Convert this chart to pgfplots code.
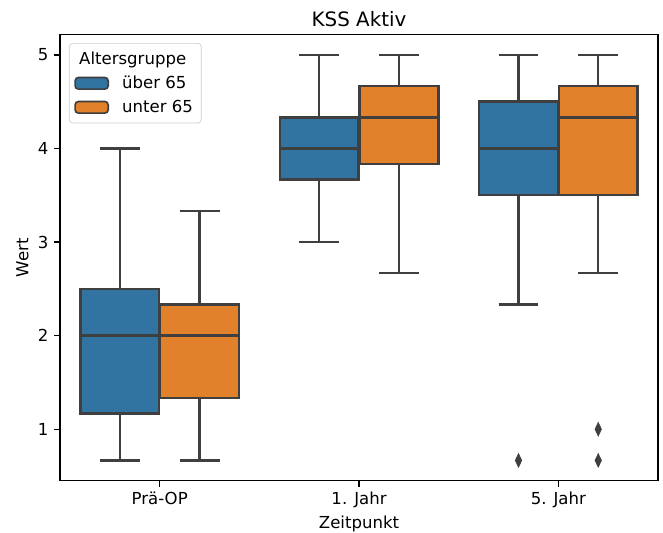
\documentclass[border=0pt]{standalone}
\usepackage{fontspec}
\setmainfont{DejaVu Sans}
\usepackage{pgfplots}
\pgfplotsset{compat=1.18}
\usepgfplotslibrary{statistics}
\definecolor{sbblue}{HTML}{3274A1}
\definecolor{sborange}{HTML}{E1812C}
\definecolor{sbgray}{HTML}{3F3F3F}
\begin{document}
\begin{tikzpicture}
\begin{axis}[
  scale only axis, width=361.5pt, height=269.7pt,
  at={(0,0)}, anchor=south west,
  xmin=-0.5, xmax=2.5, ymin=0.45, ymax=5.2167,
  xtick={0,1,2}, xticklabels={Prä-OP,1. Jahr,5. Jahr},
  ytick={1,2,3,4,5},
  tick align=outside, xtick pos=bottom, ytick pos=left,
  major tick length=3.5pt,
  tick style={black, line width=0.8pt},
  axis line style={black, line width=0.8pt},
  ticklabel style={font=\fontsize{10}{12}\selectfont},
  /pgf/number format/assume math mode=true,
  xlabel={Zeitpunkt}, ylabel={Wert},
  label style={font=\fontsize{10}{12}\selectfont},
  xlabel style={yshift=2pt},
  ylabel style={yshift=-1.2pt},
  title={KSS Aktiv}, title style={font=\fontsize{12}{14}\selectfont, at={(0.5,1)}, anchor=base, yshift=-1.2pt},
  boxplot/draw direction=y,
  legend style={at={(0,1)}, anchor=north west, xshift=5.4pt, yshift=-5.1pt,
    draw=black!20, rounded corners=2pt, fill=white,
    font=\fontsize{10}{12}\selectfont, row sep=1.5pt, column sep=6pt, inner xsep=3pt, inner ysep=3pt},
  legend cell align=left,
  legend image code/.code={\draw[#1] (0pt,-3.5pt) rectangle (20pt,3.5pt);},
]
% Prae-OP
\addplot[boxplot prepared={lower whisker=0.6667, lower quartile=1.1667, median=2, upper quartile=2.5, upper whisker=4, draw position=-0.2, box extend=0.395, whisker extend=0.2}, draw=sbgray, fill=sbblue, line width=1.5pt, forget plot] coordinates {};
\addplot[boxplot prepared={lower whisker=0.6667, lower quartile=1.3333, median=2, upper quartile=2.3333, upper whisker=3.3333, draw position=0.2, box extend=0.395, whisker extend=0.2}, draw=sbgray, fill=sborange, line width=1.5pt, forget plot] coordinates {};
% 1. Jahr
\addplot[boxplot prepared={lower whisker=3, lower quartile=3.6667, median=4, upper quartile=4.3333, upper whisker=5, draw position=0.8, box extend=0.395, whisker extend=0.2}, draw=sbgray, fill=sbblue, line width=1.5pt, forget plot] coordinates {};
\addplot[boxplot prepared={lower whisker=2.6667, lower quartile=3.8333, median=4.3333, upper quartile=4.6667, upper whisker=5, draw position=1.2, box extend=0.395, whisker extend=0.2}, draw=sbgray, fill=sborange, line width=1.5pt, forget plot] coordinates {};
% 5. Jahr
\addplot[boxplot prepared={lower whisker=2.3333, lower quartile=3.5, median=4, upper quartile=4.5, upper whisker=5, draw position=1.8, box extend=0.395, whisker extend=0.2}, draw=sbgray, fill=sbblue, line width=1.5pt, forget plot, mark=diamond*, mark size=4.1pt, mark options={draw=sbgray, fill=sbgray, line width=0.4pt, xscale=0.63}] table[row sep=\\, y index=0] {data\\ 0.6667\\};
\addplot[boxplot prepared={lower whisker=2.6667, lower quartile=3.5, median=4.3333, upper quartile=4.6667, upper whisker=5, draw position=2.2, box extend=0.395, whisker extend=0.2}, draw=sbgray, fill=sborange, line width=1.5pt, forget plot, mark=diamond*, mark size=4.1pt, mark options={draw=sbgray, fill=sbgray, line width=0.4pt, xscale=0.63}] table[row sep=\\, y index=0] {data\\ 1\\ 0.6667\\};
\addlegendimage{empty legend}
\addlegendentry{\hspace{-26pt}Altersgruppe}
\addlegendimage{draw=sbgray, fill=sbblue, line width=1pt}
\addlegendentry{über 65}
\addlegendimage{draw=sbgray, fill=sborange, line width=1pt}
\addlegendentry{unter 65}
\end{axis}
\pgfresetboundingbox
\path (-36.3pt,-31.6pt) rectangle (364.5pt,290.6pt);
\end{tikzpicture}
\end{document}
